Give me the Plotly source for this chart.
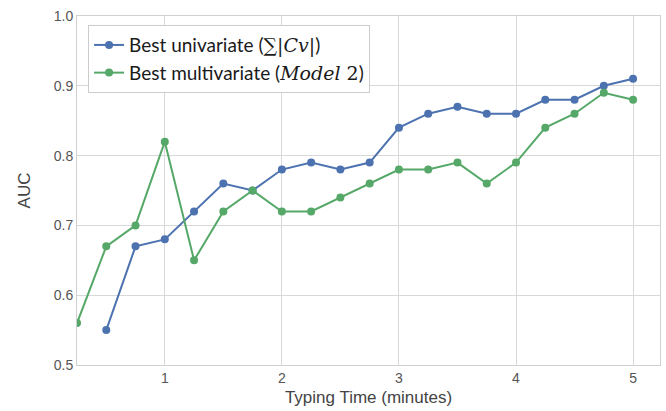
import plotly.graph_objects as go

x_blue = [0.5, 0.75, 1.0, 1.25, 1.5, 1.75, 2.0, 2.25, 2.5, 2.75, 3.0, 3.25, 3.5, 3.75, 4.0, 4.25, 4.5, 4.75, 5.0]
auc_univariate = [0.55, 0.67, 0.68, 0.72, 0.76, 0.75, 0.78, 0.79, 0.78, 0.79, 0.84, 0.86, 0.87, 0.86, 0.86, 0.88, 0.88, 0.90, 0.91]
x_green = [0.25, 0.5, 0.75, 1.0, 1.25, 1.5, 1.75, 2.0, 2.25, 2.5, 2.75, 3.0, 3.25, 3.5, 3.75, 4.0, 4.25, 4.5, 4.75, 5.0]
auc_multivariate = [0.56, 0.67, 0.70, 0.82, 0.65, 0.72, 0.75, 0.72, 0.72, 0.74, 0.76, 0.78, 0.78, 0.79, 0.76, 0.79, 0.84, 0.86, 0.89, 0.88]
x_ticks = [1, 2, 3, 4, 5]
y_ticks = [0.5, 0.6, 0.7, 0.8, 0.9, 1.0]

serif = '<span style="font-family:DejaVu Serif">'
name_uni = 'Best univariate (' + serif + '∑|<i>Cv</i>|</span>)'
name_multi = 'Best multivariate (' + serif + '<i>Model</i> 2</span>)'

fig = go.Figure()
fig.add_trace(go.Scatter(x=x_blue, y=auc_univariate, mode='lines+markers', name=name_uni,
                         line=dict(color='#4C72B0', width=2), marker=dict(size=8, color='#4C72B0'),
                         cliponaxis=False))
fig.add_trace(go.Scatter(x=x_green, y=auc_multivariate, mode='lines+markers', name=name_multi,
                         line=dict(color='#55A868', width=2), marker=dict(size=8, color='#55A868'),
                         cliponaxis=True))

axis_common = dict(showgrid=True, gridcolor='#d8d8d8', gridwidth=1, zeroline=False,
                   showline=True, linecolor='#d0d0d0', linewidth=1, mirror=True, ticks='',
                   tickfont=dict(family='Liberation Sans, Arial', size=14, color='#555555'))

fig.update_layout(
    width=666, height=411,
    margin=dict(l=77, r=6, t=16, b=46),
    paper_bgcolor='white', plot_bgcolor='white',
    font=dict(family='Liberation Sans, Arial', size=14, color='#444444'),
    showlegend=True,
    legend=dict(x=0.019, y=0.974, xanchor='left', yanchor='top',
                bgcolor='white', bordercolor='#cccccc', borderwidth=1,
                font=dict(family='Lato, Noto Sans', size=19, color='#1a1a1a'),
                itemwidth=30, tracegroupgap=0),
    xaxis=dict(range=[0.25, 5.23], tickvals=x_ticks, ticktext=[str(t) for t in x_ticks],
               title=dict(text='Typing Time (minutes)', font=dict(size=17, color='#444444'), standoff=6),
               **axis_common),
    yaxis=dict(range=[0.5, 1.0], tickvals=y_ticks, tickformat='.1f',
               title=dict(text='AUC', font=dict(size=17, color='#444444'), standoff=18),
               **axis_common),
)

fig.write_html("out.html")
